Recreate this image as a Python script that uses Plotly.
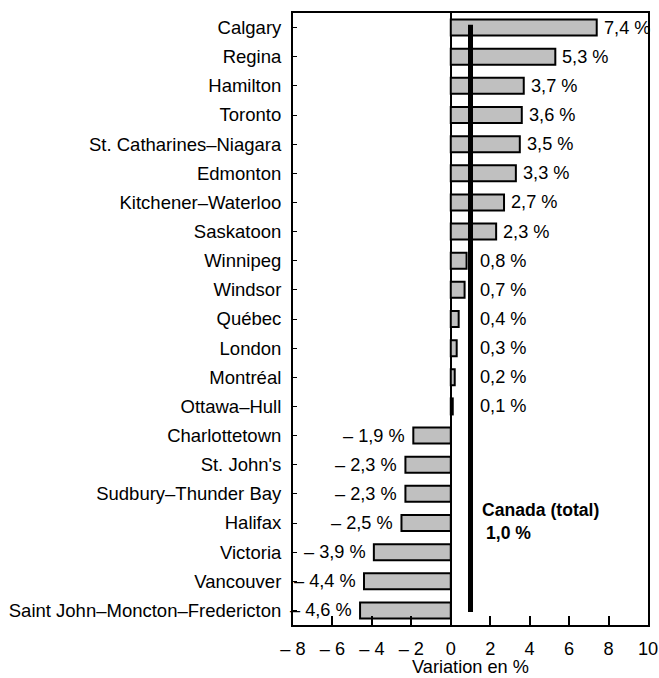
import plotly.graph_objects as go

cities = ["Calgary", "Regina", "Hamilton", "Toronto", "St. Catharines–Niagara", "Edmonton",
          "Kitchener–Waterloo", "Saskatoon", "Winnipeg", "Windsor", "Québec", "London",
          "Montréal", "Ottawa–Hull", "Charlottetown", "St. John's", "Sudbury–Thunder Bay",
          "Halifax", "Victoria", "Vancouver", "Saint John–Moncton–Fredericton"]
values = [7.4, 5.3, 3.7, 3.6, 3.5, 3.3, 2.7, 2.3, 0.8, 0.7, 0.4, 0.3, 0.2, 0.1,
          -1.9, -2.3, -2.3, -2.5, -3.9, -4.4, -4.6]
canada_total = 1.0
x_tickvals = [-8, -6, -4, -2, 0, 2, 4, 6, 8, 10]
x_ticktext = ["– 8", "– 6", "– 4", "– 2", "0", "2", "4", "6", "8", "10"]
x_title = "Variation en %"

def fmt(v):
    s = f"{abs(v):.1f}".replace(".", ",") + " %"
    return ("– " + s) if v < 0 else s

font = "Liberation Sans, Arial, sans-serif"
SZ = 18.2

fig = go.Figure()
fig.add_trace(go.Bar(
    x=values, y=cities, orientation="h",
    marker=dict(color="#c0c0c0", line=dict(color="black", width=2)),
    width=0.55, hoverinfo="skip",
))

annotations = []
for c, v in zip(cities, values):
    if v >= 0:
        annotations.append(dict(x=max(v, 1.15), y=c, text=fmt(v), xanchor="left",
                                xshift=5, showarrow=False, xref="x", yref="y",
                                font=dict(size=SZ, color="black", family=font)))
    else:
        annotations.append(dict(x=v, y=c, text=fmt(v), xanchor="right",
                                xshift=-6, showarrow=False, xref="x", yref="y",
                                font=dict(size=SZ, color="black", family=font)))

annotations.append(dict(x=canada_total, y=16.55, text="<b>Canada (total)</b>", xanchor="left",
                        xshift=9, showarrow=False, xref="x", yref="y",
                        font=dict(size=17.6, color="black", family=font)))
annotations.append(dict(x=canada_total, y=17.35, text="<b>" + fmt(canada_total) + "</b>",
                        xanchor="left", xshift=13, showarrow=False, xref="x", yref="y",
                        font=dict(size=17.6, color="black", family=font)))
annotations.append(dict(x=0.5, y=0, xref="paper", yref="paper", text=x_title,
                        xanchor="center", yanchor="top", yshift=-31, showarrow=False,
                        borderpad=0, font=dict(size=SZ, color="black", family=font)))

fig.add_shape(type="line", x0=canada_total, x1=canada_total, y0=-0.1, y1=20.05,
              xref="x", yref="y", line=dict(color="black", width=5))

fig.update_layout(
    width=659, height=678,
    margin=dict(l=293, r=11, t=13, b=53),
    paper_bgcolor="white", plot_bgcolor="white",
    showlegend=False,
    font=dict(family=font, size=SZ, color="black"),
    annotations=annotations,
    xaxis=dict(range=[-8, 10], tickvals=x_tickvals, ticktext=x_ticktext,
               ticks="inside", ticklen=9, tickwidth=2, tickcolor="black",
               showline=True, linecolor="black", linewidth=2, mirror=True,
               showgrid=False, zeroline=True, zerolinecolor="black", zerolinewidth=2,
               automargin=False, ticklabelstandoff=6, ticklabeloverflow="allow",
               tickfont=dict(size=SZ)),
    yaxis=dict(categoryorder="array", categoryarray=cities,
               range=[20.5, -0.5], ticks="inside", ticklen=4, tickwidth=1,
               tickcolor="black", showline=True, linecolor="black", linewidth=2,
               mirror=True, showgrid=False, tickfont=dict(size=18.5),
               automargin=False, ticklabelstandoff=6),
)

fig.write_html("out.html", config={"displayModeBar": False},
               post_script="document.body.style.margin='0';")
